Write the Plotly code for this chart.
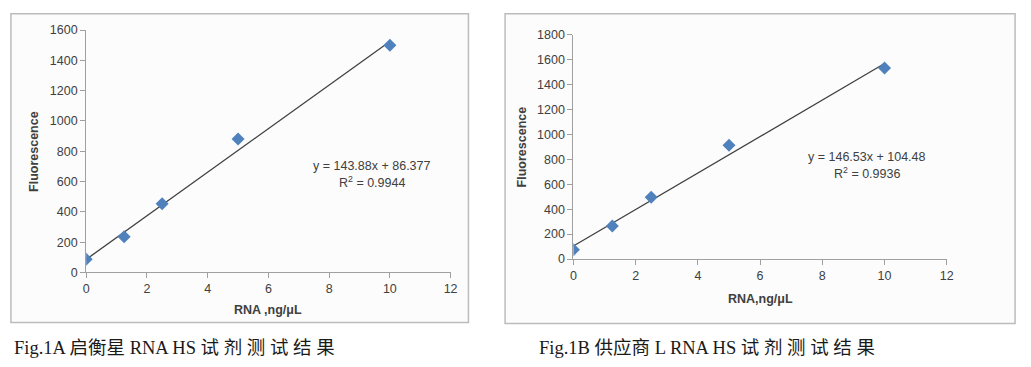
import plotly.graph_objects as go

W, H = 1031, 367

# ---- data ----
rna_conc = [0, 1.25, 2.5, 5, 10]
fluor_A = [87, 235, 453, 881, 1500]
fluor_B = [75, 266, 495, 913, 1534]
slope_A, intercept_A = 143.88, 86.377
slope_B, intercept_B = 146.53, 104.48
eq_A = ["y = 143.88x + 86.377", "R<sup>2</sup> = 0.9944"]
eq_B = ["y = 146.53x + 104.48", "R<sup>2</sup> = 0.9936"]
xticks = [0, 2, 4, 6, 8, 10, 12]
yticks_A = [0, 200, 400, 600, 800, 1000, 1200, 1400, 1600]
yticks_B = [0, 200, 400, 600, 800, 1000, 1200, 1400, 1600, 1800]
captions = ["Fig.1A 启衡星 RNA HS 试 剂 测 试 结 果", "Fig.1B 供应商 L RNA HS 试 剂 测 试 结 果"]
xtitles = ["RNA ,ng/μL", "RNA,ng/μL"]
ytitle = "Fluorescence"

def px_x(p):
    return p / W

def px_y(p):
    return 1 - p / H

fig = go.Figure()

blue = "#4f81bd"
sans = "Liberation Sans, Arial"
tickfont = dict(family=sans, size=12.5, color="#404040")

panels = [
    dict(xa="x", ya="y", xd=[84, 452], yd=[24, 276], ys=fluor_A, sl=slope_A, ic=intercept_A,
         yt=yticks_A, yr=1600, box=[8, 7, 470, 328], eq=eq_A, eqpos=(373, 165),
         xt=(268, 315), yt_pos=(32, 150), cap=(9, 355)),
    dict(xa="x2", ya="y2", xd=[576, 953], yd=[29, 262], ys=fluor_B, sl=slope_B, ic=intercept_B,
         yt=yticks_B, yr=1800, box=[507, 7, 1022, 329], eq=eq_B, eqpos=(872, 156),
         xt=(765, 304), yt_pos=(525, 145), cap=(539, 355)),
]

for i, p in enumerate(panels):
    line_x = [rna_conc[0], rna_conc[-1]]
    line_y = [p["sl"] * v + p["ic"] for v in line_x]
    fig.add_trace(go.Scatter(x=line_x, y=line_y, mode="lines",
                             line=dict(color="#404040", width=1.3),
                             xaxis=p["xa"], yaxis=p["ya"], showlegend=False))
    fig.add_trace(go.Scatter(x=rna_conc, y=p["ys"], mode="markers",
                             marker=dict(symbol="diamond", size=10, color=blue),
                             xaxis=p["xa"], yaxis=p["ya"], showlegend=False))
    sfx = "" if i == 0 else "2"
    fig.update_layout(**{
        "xaxis" + sfx: dict(domain=[px_x(p["xd"][0]), px_x(p["xd"][1])], range=[0, 12],
                            tickvals=xticks, ticks="outside", ticklen=5, tickcolor="#a0a0a0",
                            showline=True, linecolor="#a0a0a0", linewidth=1,
                            showgrid=False, zeroline=False, tickfont=tickfont,
                            anchor="y" + sfx, fixedrange=True),
        "yaxis" + sfx: dict(domain=[px_y(p["yd"][1]), px_y(p["yd"][0])], range=[0, p["yr"]],
                            tickvals=p["yt"], ticks="outside", ticklen=5, tickcolor="#a0a0a0",
                            showline=True, linecolor="#a0a0a0", linewidth=1,
                            showgrid=False, zeroline=False, tickfont=tickfont,
                            anchor="x" + sfx, fixedrange=True),
    })
    # plot-area border
    fig.add_shape(type="rect", xref="paper", yref="paper",
                  x0=px_x(p["xd"][0]), x1=px_x(p["xd"][1]),
                  y0=px_y(p["yd"][1]), y1=px_y(p["yd"][0]),
                  line=dict(color="#202020", width=1), layer="below")
    # outer chart frame
    b = p["box"]
    fig.add_shape(type="rect", xref="paper", yref="paper",
                  x0=px_x(b[0]), x1=px_x(b[2]), y0=px_y(b[3]), y1=px_y(b[1]),
                  line=dict(color="#bcbcbc", width=1.5), fillcolor="#fcfcfc", layer="below")
    # equation
    fig.add_annotation(xref="paper", yref="paper", x=px_x(p["eqpos"][0]), y=px_y(p["eqpos"][1]),
                       text=p["eq"][0], showarrow=False, xanchor="center", yanchor="middle",
                       font=dict(family=sans, size=12.5, color="#404040"))
    fig.add_annotation(xref="paper", yref="paper", x=px_x(p["eqpos"][0]), y=px_y(p["eqpos"][1] + 17),
                       text=p["eq"][1], showarrow=False, xanchor="center", yanchor="middle",
                       font=dict(family=sans, size=12.5, color="#404040"))
    # axis titles
    fig.add_annotation(xref="paper", yref="paper", x=px_x(p["xt"][0]), y=px_y(p["xt"][1]),
                       text="<b>" + xtitles[i] + "</b>", showarrow=False,
                       xanchor="center", yanchor="middle",
                       font=dict(family=sans, size=12.5, color="#404040"))
    fig.add_annotation(xref="paper", yref="paper", x=px_x(p["yt_pos"][0]), y=px_y(p["yt_pos"][1]),
                       text="<b>" + ytitle + "</b>", showarrow=False, textangle=-90,
                       xanchor="center", yanchor="middle",
                       font=dict(family=sans, size=12.5, color="#404040"))
    # caption
    fig.add_annotation(xref="paper", yref="paper", x=px_x(p["cap"][0]), y=px_y(p["cap"][1]),
                       text=captions[i], showarrow=False, xanchor="left", yanchor="middle",
                       font=dict(family="Liberation Serif, Noto Sans CJK SC", size=18.5, color="#1a1a1a"))

fig.update_layout(width=W, height=H, margin=dict(l=0, r=0, t=0, b=0),
                  paper_bgcolor="white", plot_bgcolor="rgba(0,0,0,0)", showlegend=False)

fig.write_html("out.html", config={"displayModeBar": False},
               post_script="document.body.style.margin='0';document.body.style.overflow='hidden';")
